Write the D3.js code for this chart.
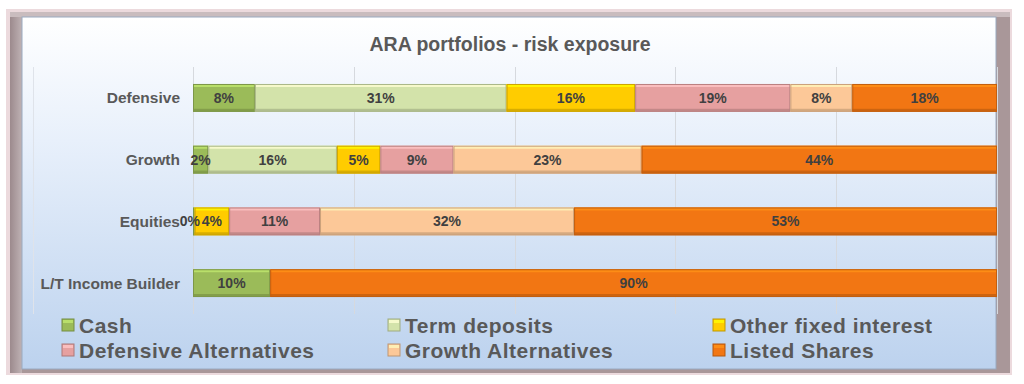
<!DOCTYPE html>
<html><head><meta charset="utf-8">
<script src="https://cdn.jsdelivr.net/npm/d3@7"></script>
<style>body{margin:0;background:#fff} svg{display:block}</style>
</head><body><svg id="c" width="1024" height="384"></svg>
<script>
const title = "ARA portfolios - risk exposure";
const categories = ["Defensive", "Growth", "Equities", "L/T Income Builder"];
const seriesNames = ["Cash", "Term deposits", "Other fixed interest", "Defensive Alternatives", "Growth Alternatives", "Listed Shares"];
const cash         = [7.7, 1.9, 0.2, 9.6];
const termDeposits = [31.3, 16.0, null, null];
const otherFixed   = [16.0, 5.4, 4.3, null];
const defensiveAlt = [19.3, 9.1, 11.3, null];
const growthAlt    = [7.7, 23.4, 31.6, null];
const listedShares = [18.0, 44.2, 52.6, 90.4];
const xTicks = [0, 20, 40, 60, 80, 100];
const colors = ["#9bbb59", "#d3e3aa", "#ffcc00", "#e6a0a0", "#fcc898", "#f27613"];

const seriesValues = [cash, termDeposits, otherFixed, defensiveAlt, growthAlt, listedShares];
const rows = categories.map((c, i) => {
  const r = {category: c};
  seriesNames.forEach((s, j) => r[s] = seriesValues[j][i]);
  return r;
});

const svg = d3.select("#c");
const defs = svg.append("defs");
const g1 = defs.append("linearGradient").attr("id", "panel").attr("x1", 0).attr("y1", 0).attr("x2", 0).attr("y2", 1);
g1.append("stop").attr("offset", "0%").attr("stop-color", "#ffffff");
g1.append("stop").attr("offset", "35%").attr("stop-color", "#e8f0fb");
g1.append("stop").attr("offset", "100%").attr("stop-color", "#bcd2ee");
const g2 = defs.append("linearGradient").attr("id", "frameL").attr("x1", 0).attr("y1", 0).attr("x2", 1).attr("y2", 0);
g2.append("stop").attr("offset", "0%").attr("stop-color", "#9c8a8d");
g2.append("stop").attr("offset", "100%").attr("stop-color", "#bfb2b4");

// frame
svg.append("rect").attr("x", 6).attr("y", 9).attr("width", 1006).attr("height", 366).attr("fill", "#ecdadd");
svg.append("rect").attr("x", 10).attr("y", 12).attr("width", 1000).attr("height", 361).attr("fill", "#a99799");
svg.append("rect").attr("x", 10).attr("y", 12).attr("width", 12).attr("height", 361).attr("fill", "url(#frameL)");
svg.append("rect").attr("x", 10).attr("y", 12).attr("width", 1000).attr("height", 5).attr("fill", "#c9bcbe");
svg.append("rect").attr("x", 22).attr("y", 17).attr("width", 974).attr("height", 352)
  .attr("fill", "url(#panel)").attr("stroke", "#9aaac0").attr("stroke-width", 1);

const x = d3.scaleLinear().domain([0, 100]).range([193, 997]);
const y = d3.scaleBand().domain(categories).range([67, 314]).paddingInner(0.55).paddingOuter(0.275);

// plot border + gridlines
svg.append("line").attr("x1", 33.5).attr("x2", 33.5).attr("y1", 67).attr("y2", 314).attr("stroke", "#dfe3ea");
svg.append("g").selectAll("line").data(xTicks).join("line")
  .attr("x1", d => Math.round(x(d)) + 0.5).attr("x2", d => Math.round(x(d)) + 0.5)
  .attr("y1", 67).attr("y2", 314).attr("stroke", "#d6d9de").attr("stroke-width", 1);

// title
svg.append("text").attr("x", 510).attr("y", 51).attr("text-anchor", "middle")
  .attr("font-family", "Liberation Sans, Arial, sans-serif").attr("font-weight", "bold")
  .attr("font-size", 19.5).attr("fill", "#595959").text(title);

// category labels
svg.append("g").selectAll("text").data(categories).join("text")
  .attr("x", 180).attr("y", d => y(d) + y.bandwidth() / 2 + 5.5).attr("text-anchor", "end")
  .attr("font-family", "Liberation Sans, Arial, sans-serif").attr("font-weight", "bold")
  .attr("font-size", 15.5).attr("fill", "#595959").text(d => d);

const stack = d3.stack().keys(seriesNames).value((d, k) => d[k] || 0);
const stacked = stack(rows);

const bars = svg.append("g");
stacked.forEach((layer, j) => {
  const col = colors[j];
  const gg = bars.append("g");
  layer.forEach((seg, i) => {
    const v = seriesValues[j][i];
    if (v == null) return;
    const x0 = x(seg[0]), x1 = x(seg[1]), yy = y(categories[i]), h = y.bandwidth();
    const w = Math.max(x1 - x0, 1);
    gg.append("rect").attr("x", x0).attr("y", yy).attr("width", w).attr("height", h)
      .attr("fill", col);
    gg.append("rect").attr("x", x0).attr("y", yy).attr("width", w).attr("height", 3)
      .attr("fill", d3.color(col).brighter(0.6)).attr("opacity", 0.8);
    gg.append("rect").attr("x", x0).attr("y", yy + h - 3).attr("width", w).attr("height", 3)
      .attr("fill", d3.color(col).darker(0.7)).attr("opacity", 0.7);
    gg.append("rect").attr("x", x0 + 0.5).attr("y", yy + 0.5).attr("width", Math.max(w - 1, 0)).attr("height", h - 1)
      .attr("fill", "none").attr("stroke", d3.color(col).darker(0.6)).attr("stroke-width", 1);
  });
});

// data labels
const labels = svg.append("g");
stacked.forEach((layer, j) => {
  layer.forEach((seg, i) => {
    const v = seriesValues[j][i];
    if (v == null) return;
    labels.append("text")
      .attr("x", (x(seg[0]) + x(seg[1])) / 2 - (v < 1 ? 4 : 0))
      .attr("y", y(categories[i]) + y.bandwidth() / 2 + 5)
      .attr("text-anchor", "middle")
      .attr("font-family", "Liberation Sans, Arial, sans-serif").attr("font-weight", "bold")
      .attr("font-size", 14).attr("fill", "#404040")
      .text(Math.round(v) + "%");
  });
});

// legend
const legendCols = [62, 388, 713];
const legendRows = [325, 350];
const leg = svg.append("g");
seriesNames.forEach((s, j) => {
  const cx = legendCols[j % 3], cy = legendRows[Math.floor(j / 3)];
  const col = colors[j];
  leg.append("rect").attr("x", cx).attr("y", cy - 6).attr("width", 12).attr("height", 12)
    .attr("fill", col).attr("stroke", d3.color(col).darker(0.8)).attr("stroke-width", 1);
  leg.append("rect").attr("x", cx + 1).attr("y", cy - 5).attr("width", 10).attr("height", 3)
    .attr("fill", d3.color(col).brighter(0.6)).attr("opacity", 0.8);
  leg.append("text").attr("x", cx + 17).attr("y", cy + 7.5)
    .attr("font-family", "Liberation Sans, Arial, sans-serif").attr("font-weight", "bold")
    .attr("font-size", 21).attr("letter-spacing", 0.5).attr("fill", "#595959").text(s);
});
</script></body></html>
